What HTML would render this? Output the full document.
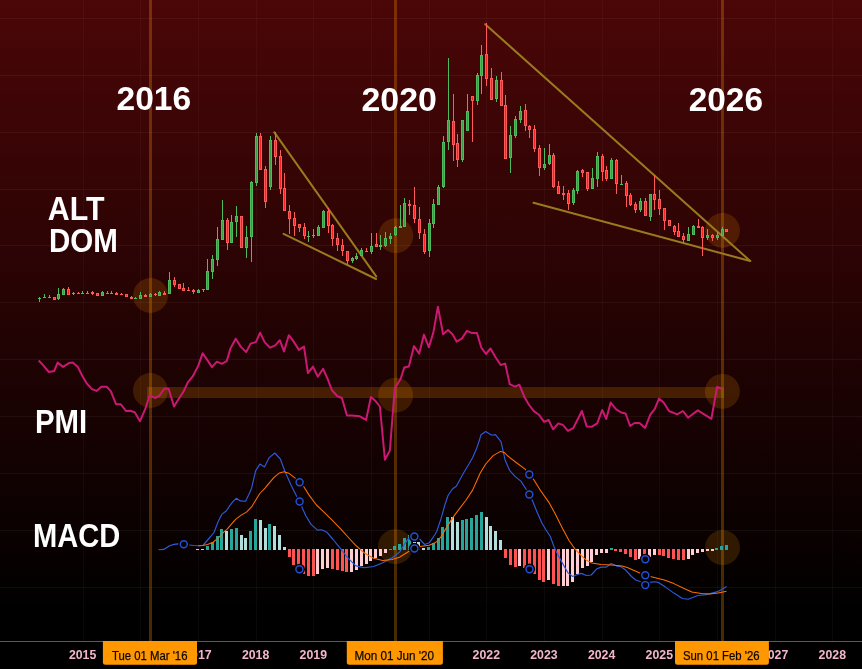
<!DOCTYPE html><html><head><meta charset="utf-8"><style>html,body{margin:0;padding:0;background:#000;}body{width:862px;height:669px;overflow:hidden;position:relative;font-family:"Liberation Sans",sans-serif;}</style></head><body><svg width="862" height="669" viewBox="0 0 862 669" style="position:absolute;left:0;top:0;will-change:transform">
<defs><linearGradient id="bg" gradientUnits="userSpaceOnUse" x1="0" y1="0" x2="0" y2="641"><stop offset="0" stop-color="#4b0607"/><stop offset="0.96" stop-color="#000000"/><stop offset="1" stop-color="#000000"/></linearGradient></defs>
<rect x="0" y="0" width="862" height="641" fill="url(#bg)"/>
<rect x="0" y="641" width="862" height="28" fill="#000"/>
<g fill="rgba(255,255,255,0.05)" shape-rendering="crispEdges"><rect x="0" y="18" width="862" height="1"/><rect x="0" y="75" width="862" height="1"/><rect x="0" y="132" width="862" height="1"/><rect x="0" y="189" width="862" height="1"/><rect x="0" y="245" width="862" height="1"/><rect x="0" y="302" width="862" height="1"/><rect x="0" y="359" width="862" height="1"/><rect x="0" y="416" width="862" height="1"/><rect x="0" y="473" width="862" height="1"/><rect x="0" y="530" width="862" height="1"/><rect x="0" y="587" width="862" height="1"/></g>
<g fill="rgba(255,255,255,0.035)" shape-rendering="crispEdges"><rect x="83" y="0" width="1" height="641"/><rect x="140" y="0" width="1" height="641"/><rect x="198" y="0" width="1" height="641"/><rect x="256" y="0" width="1" height="641"/><rect x="313" y="0" width="1" height="641"/><rect x="371" y="0" width="1" height="641"/><rect x="429" y="0" width="1" height="641"/><rect x="486" y="0" width="1" height="641"/><rect x="544" y="0" width="1" height="641"/><rect x="602" y="0" width="1" height="641"/><rect x="659" y="0" width="1" height="641"/><rect x="717" y="0" width="1" height="641"/><rect x="775" y="0" width="1" height="641"/><rect x="832" y="0" width="1" height="641"/></g>
<rect x="147" y="387" width="577" height="11" fill="rgba(255,150,0,0.195)"/>
<circle cx="150.5" cy="295.5" r="17.45" fill="rgba(255,150,0,0.165)"/>
<circle cx="395.8" cy="235.6" r="17.45" fill="rgba(255,150,0,0.165)"/>
<circle cx="722.5" cy="230.5" r="17.45" fill="rgba(255,150,0,0.165)"/>
<circle cx="150.4" cy="390.5" r="17.45" fill="rgba(255,150,0,0.165)"/>
<circle cx="395.6" cy="395.2" r="17.45" fill="rgba(255,150,0,0.165)"/>
<circle cx="722.4" cy="391.4" r="17.45" fill="rgba(255,150,0,0.165)"/>
<circle cx="395.4" cy="546.6" r="17.45" fill="rgba(255,150,0,0.165)"/>
<circle cx="722.5" cy="547.6" r="17.45" fill="rgba(255,150,0,0.165)"/>
<rect x="149" y="0" width="3" height="641" fill="rgba(255,150,0,0.28)"/>
<rect x="394" y="0" width="3" height="641" fill="rgba(255,150,0,0.28)"/>
<rect x="721" y="0" width="3" height="641" fill="rgba(255,150,0,0.28)"/>
<g fill="#fff" font-family="Liberation Sans, sans-serif" font-weight="bold">
<text x="116.50" y="110.00" font-size="33.5" textLength="74.68" lengthAdjust="spacingAndGlyphs">2016</text>
<text x="361.53" y="110.80" font-size="33.5" textLength="75.39" lengthAdjust="spacingAndGlyphs">2020</text>
<text x="688.71" y="110.80" font-size="33.5" textLength="74.28" lengthAdjust="spacingAndGlyphs">2026</text>
<text x="47.86" y="219.80" font-size="33.5" textLength="56.73" lengthAdjust="spacingAndGlyphs">ALT</text>
<text x="48.95" y="251.60" font-size="33.5" textLength="68.83" lengthAdjust="spacingAndGlyphs">DOM</text>
<text x="34.90" y="432.90" font-size="33.5" textLength="52.16" lengthAdjust="spacingAndGlyphs">PMI</text>
<text x="33.04" y="546.60" font-size="33.5" textLength="87.31" lengthAdjust="spacingAndGlyphs">MACD</text>
</g>
<line x1="274.3" y1="132.4" x2="376.2" y2="276.4" stroke="#9a7a1e" stroke-width="2" stroke-linecap="round"/>
<line x1="283.6" y1="233.8" x2="376.0" y2="279.0" stroke="#9a7a1e" stroke-width="2" stroke-linecap="round"/>
<line x1="485.2" y1="24.2" x2="750.2" y2="261.0" stroke="#9a7a1e" stroke-width="2" stroke-linecap="round"/>
<line x1="533.5" y1="202.8" x2="750.2" y2="261.0" stroke="#9a7a1e" stroke-width="2" stroke-linecap="round"/>
<g shape-rendering="crispEdges"><rect x="39" y="297" width="1" height="1" fill="#50bb5c"/><rect x="39" y="299" width="1" height="3" fill="#50bb5c"/><rect x="38" y="298" width="3" height="1" fill="#50bb5c"/><rect x="44" y="294" width="1" height="3" fill="#50bb5c"/><rect x="43" y="297" width="3" height="1" fill="#50bb5c"/><rect x="49" y="295" width="1" height="2" fill="#ff5a5a"/><rect x="48" y="297" width="3" height="1" fill="#ff5a5a"/><rect x="53" y="297" width="3" height="3" fill="#ff5a5a"/><rect x="54" y="298" width="1" height="1" fill="#ff1f1f"/><rect x="58" y="288" width="1" height="6" fill="#50bb5c"/><rect x="58" y="299" width="1" height="1" fill="#50bb5c"/><rect x="57" y="294" width="3" height="5" fill="#50bb5c"/><rect x="58" y="295" width="1" height="3" fill="#389e44"/><rect x="63" y="288" width="1" height="1" fill="#50bb5c"/><rect x="62" y="289" width="3" height="6" fill="#50bb5c"/><rect x="63" y="290" width="1" height="4" fill="#389e44"/><rect x="68" y="287" width="1" height="2" fill="#ff5a5a"/><rect x="67" y="289" width="3" height="6" fill="#ff5a5a"/><rect x="68" y="290" width="1" height="4" fill="#ff1f1f"/><rect x="73" y="292" width="1" height="1" fill="#50bb5c"/><rect x="73" y="294" width="1" height="1" fill="#50bb5c"/><rect x="72" y="293" width="3" height="1" fill="#50bb5c"/><rect x="78" y="292" width="1" height="1" fill="#ff5a5a"/><rect x="77" y="293" width="3" height="1" fill="#ff5a5a"/><rect x="82" y="291" width="1" height="2" fill="#50bb5c"/><rect x="81" y="293" width="3" height="1" fill="#50bb5c"/><rect x="87" y="291" width="1" height="2" fill="#50bb5c"/><rect x="86" y="293" width="3" height="1" fill="#50bb5c"/><rect x="92" y="291" width="1" height="1" fill="#ff5a5a"/><rect x="92" y="294" width="1" height="1" fill="#ff5a5a"/><rect x="91" y="292" width="3" height="2" fill="#ff5a5a"/><rect x="96" y="293" width="3" height="3" fill="#ff5a5a"/><rect x="97" y="294" width="1" height="1" fill="#ff1f1f"/><rect x="102" y="291" width="1" height="1" fill="#50bb5c"/><rect x="101" y="292" width="3" height="4" fill="#50bb5c"/><rect x="102" y="293" width="1" height="2" fill="#389e44"/><rect x="107" y="291" width="1" height="2" fill="#ff5a5a"/><rect x="106" y="293" width="3" height="1" fill="#ff5a5a"/><rect x="111" y="291" width="1" height="2" fill="#50bb5c"/><rect x="110" y="293" width="3" height="1" fill="#50bb5c"/><rect x="116" y="292" width="1" height="1" fill="#ff5a5a"/><rect x="115" y="293" width="3" height="2" fill="#ff5a5a"/><rect x="121" y="293" width="1" height="1" fill="#ff5a5a"/><rect x="120" y="294" width="3" height="1" fill="#ff5a5a"/><rect x="125" y="294" width="3" height="3" fill="#ff5a5a"/><rect x="126" y="295" width="1" height="1" fill="#ff1f1f"/><rect x="131" y="296" width="1" height="1" fill="#ff5a5a"/><rect x="130" y="297" width="3" height="2" fill="#ff5a5a"/><rect x="135" y="297" width="1" height="1" fill="#50bb5c"/><rect x="134" y="298" width="3" height="1" fill="#50bb5c"/><rect x="140" y="292" width="1" height="3" fill="#50bb5c"/><rect x="139" y="295" width="3" height="4" fill="#50bb5c"/><rect x="140" y="296" width="1" height="2" fill="#389e44"/><rect x="145" y="294" width="1" height="1" fill="#ff5a5a"/><rect x="144" y="295" width="3" height="2" fill="#ff5a5a"/><rect x="150" y="293" width="1" height="1" fill="#50bb5c"/><rect x="149" y="294" width="3" height="3" fill="#50bb5c"/><rect x="150" y="295" width="1" height="1" fill="#389e44"/><rect x="155" y="293" width="1" height="1" fill="#ff5a5a"/><rect x="155" y="295" width="1" height="1" fill="#ff5a5a"/><rect x="154" y="294" width="3" height="1" fill="#ff5a5a"/><rect x="159" y="291" width="1" height="1" fill="#50bb5c"/><rect x="158" y="292" width="3" height="4" fill="#50bb5c"/><rect x="159" y="293" width="1" height="2" fill="#389e44"/><rect x="164" y="291" width="1" height="2" fill="#ff5a5a"/><rect x="163" y="293" width="3" height="2" fill="#ff5a5a"/><rect x="169" y="272" width="1" height="8" fill="#50bb5c"/><rect x="168" y="280" width="3" height="14" fill="#50bb5c"/><rect x="169" y="281" width="1" height="12" fill="#389e44"/><rect x="174" y="277" width="1" height="3" fill="#ff5a5a"/><rect x="174" y="285" width="1" height="2" fill="#ff5a5a"/><rect x="173" y="280" width="3" height="5" fill="#ff5a5a"/><rect x="174" y="281" width="1" height="3" fill="#ff1f1f"/><rect x="178" y="284" width="3" height="5" fill="#ff5a5a"/><rect x="179" y="285" width="1" height="3" fill="#ff1f1f"/><rect x="183" y="283" width="1" height="5" fill="#ff5a5a"/><rect x="182" y="288" width="3" height="3" fill="#ff5a5a"/><rect x="183" y="289" width="1" height="1" fill="#ff1f1f"/><rect x="188" y="287" width="1" height="3" fill="#ff5a5a"/><rect x="187" y="290" width="3" height="1" fill="#ff5a5a"/><rect x="193" y="289" width="1" height="1" fill="#ff5a5a"/><rect x="193" y="292" width="1" height="2" fill="#ff5a5a"/><rect x="192" y="290" width="3" height="2" fill="#ff5a5a"/><rect x="198" y="289" width="1" height="1" fill="#50bb5c"/><rect x="197" y="290" width="3" height="3" fill="#50bb5c"/><rect x="198" y="291" width="1" height="1" fill="#389e44"/><rect x="203" y="290" width="1" height="2" fill="#50bb5c"/><rect x="202" y="289" width="3" height="1" fill="#50bb5c"/><rect x="207" y="259" width="1" height="12" fill="#50bb5c"/><rect x="206" y="271" width="3" height="19" fill="#50bb5c"/><rect x="207" y="272" width="1" height="17" fill="#389e44"/><rect x="212" y="255" width="1" height="4" fill="#50bb5c"/><rect x="212" y="272" width="1" height="7" fill="#50bb5c"/><rect x="211" y="259" width="3" height="13" fill="#50bb5c"/><rect x="212" y="260" width="1" height="11" fill="#389e44"/><rect x="217" y="227" width="1" height="12" fill="#50bb5c"/><rect x="217" y="260" width="1" height="6" fill="#50bb5c"/><rect x="216" y="239" width="3" height="21" fill="#50bb5c"/><rect x="217" y="240" width="1" height="19" fill="#389e44"/><rect x="222" y="200" width="1" height="20" fill="#50bb5c"/><rect x="221" y="220" width="3" height="20" fill="#50bb5c"/><rect x="222" y="221" width="1" height="18" fill="#389e44"/><rect x="227" y="218" width="1" height="2" fill="#ff5a5a"/><rect x="227" y="243" width="1" height="7" fill="#ff5a5a"/><rect x="226" y="220" width="3" height="23" fill="#ff5a5a"/><rect x="227" y="221" width="1" height="21" fill="#ff1f1f"/><rect x="231" y="215" width="1" height="7" fill="#50bb5c"/><rect x="230" y="222" width="3" height="21" fill="#50bb5c"/><rect x="231" y="223" width="1" height="19" fill="#389e44"/><rect x="236" y="206" width="1" height="10" fill="#50bb5c"/><rect x="236" y="222" width="1" height="15" fill="#50bb5c"/><rect x="235" y="216" width="3" height="6" fill="#50bb5c"/><rect x="236" y="217" width="1" height="4" fill="#389e44"/><rect x="240" y="216" width="3" height="32" fill="#ff5a5a"/><rect x="241" y="217" width="1" height="30" fill="#ff1f1f"/><rect x="246" y="226" width="1" height="11" fill="#50bb5c"/><rect x="246" y="248" width="1" height="10" fill="#50bb5c"/><rect x="245" y="237" width="3" height="11" fill="#50bb5c"/><rect x="246" y="238" width="1" height="9" fill="#389e44"/><rect x="251" y="181" width="1" height="1" fill="#50bb5c"/><rect x="251" y="237" width="1" height="25" fill="#50bb5c"/><rect x="250" y="182" width="3" height="55" fill="#50bb5c"/><rect x="251" y="183" width="1" height="53" fill="#389e44"/><rect x="256" y="133" width="1" height="3" fill="#50bb5c"/><rect x="256" y="183" width="1" height="3" fill="#50bb5c"/><rect x="255" y="136" width="3" height="47" fill="#50bb5c"/><rect x="256" y="137" width="1" height="45" fill="#389e44"/><rect x="260" y="133" width="1" height="3" fill="#ff5a5a"/><rect x="259" y="136" width="3" height="34" fill="#ff5a5a"/><rect x="260" y="137" width="1" height="32" fill="#ff1f1f"/><rect x="265" y="166" width="1" height="3" fill="#ff5a5a"/><rect x="265" y="202" width="1" height="6" fill="#ff5a5a"/><rect x="264" y="169" width="3" height="33" fill="#ff5a5a"/><rect x="265" y="170" width="1" height="31" fill="#ff1f1f"/><rect x="270" y="136" width="1" height="4" fill="#50bb5c"/><rect x="270" y="187" width="1" height="3" fill="#50bb5c"/><rect x="269" y="140" width="3" height="47" fill="#50bb5c"/><rect x="270" y="141" width="1" height="45" fill="#389e44"/><rect x="275" y="132" width="1" height="8" fill="#ff5a5a"/><rect x="275" y="157" width="1" height="8" fill="#ff5a5a"/><rect x="274" y="140" width="3" height="17" fill="#ff5a5a"/><rect x="275" y="141" width="1" height="15" fill="#ff1f1f"/><rect x="280" y="150" width="1" height="6" fill="#ff5a5a"/><rect x="280" y="189" width="1" height="5" fill="#ff5a5a"/><rect x="279" y="156" width="3" height="33" fill="#ff5a5a"/><rect x="280" y="157" width="1" height="31" fill="#ff1f1f"/><rect x="284" y="173" width="1" height="15" fill="#ff5a5a"/><rect x="283" y="188" width="3" height="23" fill="#ff5a5a"/><rect x="284" y="189" width="1" height="21" fill="#ff1f1f"/><rect x="289" y="205" width="1" height="6" fill="#ff5a5a"/><rect x="289" y="219" width="1" height="15" fill="#ff5a5a"/><rect x="288" y="211" width="3" height="8" fill="#ff5a5a"/><rect x="289" y="212" width="1" height="6" fill="#ff1f1f"/><rect x="294" y="212" width="1" height="6" fill="#ff5a5a"/><rect x="294" y="226" width="1" height="10" fill="#ff5a5a"/><rect x="293" y="218" width="3" height="8" fill="#ff5a5a"/><rect x="294" y="219" width="1" height="6" fill="#ff1f1f"/><rect x="299" y="228" width="1" height="4" fill="#ff5a5a"/><rect x="298" y="224" width="3" height="4" fill="#ff5a5a"/><rect x="299" y="225" width="1" height="2" fill="#ff1f1f"/><rect x="304" y="223" width="1" height="4" fill="#ff5a5a"/><rect x="304" y="236" width="1" height="3" fill="#ff5a5a"/><rect x="303" y="227" width="3" height="9" fill="#ff5a5a"/><rect x="304" y="228" width="1" height="7" fill="#ff1f1f"/><rect x="308" y="231" width="1" height="5" fill="#50bb5c"/><rect x="308" y="237" width="1" height="5" fill="#50bb5c"/><rect x="307" y="236" width="3" height="1" fill="#50bb5c"/><rect x="313" y="229" width="1" height="6" fill="#50bb5c"/><rect x="313" y="236" width="1" height="2" fill="#50bb5c"/><rect x="312" y="235" width="3" height="1" fill="#50bb5c"/><rect x="318" y="225" width="1" height="2" fill="#50bb5c"/><rect x="317" y="227" width="3" height="9" fill="#50bb5c"/><rect x="318" y="228" width="1" height="7" fill="#389e44"/><rect x="323" y="210" width="1" height="1" fill="#50bb5c"/><rect x="322" y="211" width="3" height="17" fill="#50bb5c"/><rect x="323" y="212" width="1" height="15" fill="#389e44"/><rect x="328" y="208" width="1" height="3" fill="#ff5a5a"/><rect x="328" y="226" width="1" height="7" fill="#ff5a5a"/><rect x="327" y="211" width="3" height="15" fill="#ff5a5a"/><rect x="328" y="212" width="1" height="13" fill="#ff1f1f"/><rect x="332" y="224" width="1" height="1" fill="#ff5a5a"/><rect x="332" y="239" width="1" height="7" fill="#ff5a5a"/><rect x="331" y="225" width="3" height="14" fill="#ff5a5a"/><rect x="332" y="226" width="1" height="12" fill="#ff1f1f"/><rect x="337" y="233" width="1" height="5" fill="#ff5a5a"/><rect x="337" y="245" width="1" height="6" fill="#ff5a5a"/><rect x="336" y="238" width="3" height="7" fill="#ff5a5a"/><rect x="337" y="239" width="1" height="5" fill="#ff1f1f"/><rect x="342" y="239" width="1" height="6" fill="#ff5a5a"/><rect x="342" y="251" width="1" height="5" fill="#ff5a5a"/><rect x="341" y="245" width="3" height="6" fill="#ff5a5a"/><rect x="342" y="246" width="1" height="4" fill="#ff1f1f"/><rect x="347" y="261" width="1" height="4" fill="#ff5a5a"/><rect x="346" y="251" width="3" height="10" fill="#ff5a5a"/><rect x="347" y="252" width="1" height="8" fill="#ff1f1f"/><rect x="352" y="257" width="1" height="1" fill="#50bb5c"/><rect x="352" y="261" width="1" height="2" fill="#50bb5c"/><rect x="351" y="258" width="3" height="3" fill="#50bb5c"/><rect x="352" y="259" width="1" height="1" fill="#389e44"/><rect x="356" y="253" width="1" height="3" fill="#50bb5c"/><rect x="356" y="259" width="1" height="1" fill="#50bb5c"/><rect x="355" y="256" width="3" height="3" fill="#50bb5c"/><rect x="356" y="257" width="1" height="1" fill="#389e44"/><rect x="361" y="248" width="1" height="2" fill="#50bb5c"/><rect x="360" y="250" width="3" height="6" fill="#50bb5c"/><rect x="361" y="251" width="1" height="4" fill="#389e44"/><rect x="366" y="248" width="1" height="3" fill="#ff5a5a"/><rect x="365" y="251" width="3" height="1" fill="#ff5a5a"/><rect x="371" y="233" width="1" height="13" fill="#50bb5c"/><rect x="371" y="252" width="1" height="2" fill="#50bb5c"/><rect x="370" y="246" width="3" height="6" fill="#50bb5c"/><rect x="371" y="247" width="1" height="4" fill="#389e44"/><rect x="376" y="233" width="1" height="11" fill="#ff5a5a"/><rect x="375" y="244" width="3" height="3" fill="#ff5a5a"/><rect x="376" y="245" width="1" height="1" fill="#ff1f1f"/><rect x="380" y="235" width="1" height="10" fill="#50bb5c"/><rect x="380" y="247" width="1" height="3" fill="#50bb5c"/><rect x="379" y="245" width="3" height="2" fill="#50bb5c"/><rect x="385" y="232" width="1" height="6" fill="#50bb5c"/><rect x="385" y="246" width="1" height="1" fill="#50bb5c"/><rect x="384" y="238" width="3" height="8" fill="#50bb5c"/><rect x="385" y="239" width="1" height="6" fill="#389e44"/><rect x="390" y="233" width="1" height="3" fill="#50bb5c"/><rect x="390" y="239" width="1" height="5" fill="#50bb5c"/><rect x="389" y="236" width="3" height="3" fill="#50bb5c"/><rect x="390" y="237" width="1" height="1" fill="#389e44"/><rect x="395" y="226" width="1" height="1" fill="#50bb5c"/><rect x="395" y="235" width="1" height="1" fill="#50bb5c"/><rect x="394" y="227" width="3" height="8" fill="#50bb5c"/><rect x="395" y="228" width="1" height="6" fill="#389e44"/><rect x="400" y="205" width="1" height="21" fill="#50bb5c"/><rect x="399" y="226" width="3" height="2" fill="#50bb5c"/><rect x="404" y="198" width="1" height="5" fill="#50bb5c"/><rect x="403" y="203" width="3" height="24" fill="#50bb5c"/><rect x="404" y="204" width="1" height="22" fill="#389e44"/><rect x="409" y="200" width="1" height="4" fill="#ff5a5a"/><rect x="409" y="206" width="1" height="9" fill="#ff5a5a"/><rect x="408" y="204" width="3" height="2" fill="#ff5a5a"/><rect x="414" y="187" width="1" height="18" fill="#ff5a5a"/><rect x="414" y="219" width="1" height="4" fill="#ff5a5a"/><rect x="413" y="205" width="3" height="14" fill="#ff5a5a"/><rect x="414" y="206" width="1" height="12" fill="#ff1f1f"/><rect x="419" y="207" width="1" height="12" fill="#ff5a5a"/><rect x="419" y="233" width="1" height="6" fill="#ff5a5a"/><rect x="418" y="219" width="3" height="14" fill="#ff5a5a"/><rect x="419" y="220" width="1" height="12" fill="#ff1f1f"/><rect x="424" y="229" width="1" height="5" fill="#ff5a5a"/><rect x="424" y="252" width="1" height="2" fill="#ff5a5a"/><rect x="423" y="234" width="3" height="18" fill="#ff5a5a"/><rect x="424" y="235" width="1" height="16" fill="#ff1f1f"/><rect x="429" y="219" width="1" height="4" fill="#50bb5c"/><rect x="429" y="251" width="1" height="6" fill="#50bb5c"/><rect x="428" y="223" width="3" height="28" fill="#50bb5c"/><rect x="429" y="224" width="1" height="26" fill="#389e44"/><rect x="433" y="199" width="1" height="5" fill="#50bb5c"/><rect x="433" y="224" width="1" height="4" fill="#50bb5c"/><rect x="432" y="204" width="3" height="20" fill="#50bb5c"/><rect x="433" y="205" width="1" height="18" fill="#389e44"/><rect x="438" y="185" width="1" height="2" fill="#50bb5c"/><rect x="437" y="187" width="3" height="18" fill="#50bb5c"/><rect x="438" y="188" width="1" height="16" fill="#389e44"/><rect x="443" y="136" width="1" height="6" fill="#50bb5c"/><rect x="443" y="187" width="1" height="1" fill="#50bb5c"/><rect x="442" y="142" width="3" height="45" fill="#50bb5c"/><rect x="443" y="143" width="1" height="43" fill="#389e44"/><rect x="448" y="58" width="1" height="62" fill="#50bb5c"/><rect x="448" y="142" width="1" height="8" fill="#50bb5c"/><rect x="447" y="120" width="3" height="22" fill="#50bb5c"/><rect x="448" y="121" width="1" height="20" fill="#389e44"/><rect x="453" y="94" width="1" height="27" fill="#ff5a5a"/><rect x="453" y="145" width="1" height="16" fill="#ff5a5a"/><rect x="452" y="121" width="3" height="24" fill="#ff5a5a"/><rect x="453" y="122" width="1" height="22" fill="#ff1f1f"/><rect x="457" y="134" width="1" height="9" fill="#ff5a5a"/><rect x="457" y="160" width="1" height="7" fill="#ff5a5a"/><rect x="456" y="143" width="3" height="17" fill="#ff5a5a"/><rect x="457" y="144" width="1" height="15" fill="#ff1f1f"/><rect x="462" y="160" width="1" height="2" fill="#50bb5c"/><rect x="461" y="120" width="3" height="40" fill="#50bb5c"/><rect x="462" y="121" width="1" height="38" fill="#389e44"/><rect x="467" y="94" width="1" height="17" fill="#50bb5c"/><rect x="466" y="111" width="3" height="20" fill="#50bb5c"/><rect x="467" y="112" width="1" height="18" fill="#389e44"/><rect x="472" y="101" width="1" height="41" fill="#ff5a5a"/><rect x="471" y="96" width="3" height="5" fill="#ff5a5a"/><rect x="472" y="97" width="1" height="3" fill="#ff1f1f"/><rect x="477" y="73" width="1" height="2" fill="#50bb5c"/><rect x="477" y="101" width="1" height="4" fill="#50bb5c"/><rect x="476" y="75" width="3" height="26" fill="#50bb5c"/><rect x="477" y="76" width="1" height="24" fill="#389e44"/><rect x="481" y="45" width="1" height="10" fill="#50bb5c"/><rect x="481" y="76" width="1" height="18" fill="#50bb5c"/><rect x="480" y="55" width="3" height="21" fill="#50bb5c"/><rect x="481" y="56" width="1" height="19" fill="#389e44"/><rect x="486" y="23" width="1" height="31" fill="#ff5a5a"/><rect x="486" y="79" width="1" height="7" fill="#ff5a5a"/><rect x="485" y="54" width="3" height="25" fill="#ff5a5a"/><rect x="486" y="55" width="1" height="23" fill="#ff1f1f"/><rect x="491" y="68" width="1" height="10" fill="#ff5a5a"/><rect x="490" y="78" width="3" height="22" fill="#ff5a5a"/><rect x="491" y="79" width="1" height="20" fill="#ff1f1f"/><rect x="496" y="76" width="1" height="4" fill="#50bb5c"/><rect x="496" y="99" width="1" height="3" fill="#50bb5c"/><rect x="495" y="80" width="3" height="19" fill="#50bb5c"/><rect x="496" y="81" width="1" height="17" fill="#389e44"/><rect x="501" y="72" width="1" height="8" fill="#ff5a5a"/><rect x="500" y="80" width="3" height="26" fill="#ff5a5a"/><rect x="501" y="81" width="1" height="24" fill="#ff1f1f"/><rect x="505" y="95" width="1" height="10" fill="#ff5a5a"/><rect x="504" y="105" width="3" height="54" fill="#ff5a5a"/><rect x="505" y="106" width="1" height="52" fill="#ff1f1f"/><rect x="510" y="126" width="1" height="9" fill="#50bb5c"/><rect x="510" y="158" width="1" height="15" fill="#50bb5c"/><rect x="509" y="135" width="3" height="23" fill="#50bb5c"/><rect x="510" y="136" width="1" height="21" fill="#389e44"/><rect x="515" y="116" width="1" height="3" fill="#50bb5c"/><rect x="515" y="136" width="1" height="2" fill="#50bb5c"/><rect x="514" y="119" width="3" height="17" fill="#50bb5c"/><rect x="515" y="120" width="1" height="15" fill="#389e44"/><rect x="520" y="106" width="1" height="5" fill="#50bb5c"/><rect x="520" y="120" width="1" height="3" fill="#50bb5c"/><rect x="519" y="111" width="3" height="9" fill="#50bb5c"/><rect x="520" y="112" width="1" height="7" fill="#389e44"/><rect x="525" y="104" width="1" height="6" fill="#ff5a5a"/><rect x="525" y="126" width="1" height="5" fill="#ff5a5a"/><rect x="524" y="110" width="3" height="16" fill="#ff5a5a"/><rect x="525" y="111" width="1" height="14" fill="#ff1f1f"/><rect x="529" y="125" width="1" height="1" fill="#ff5a5a"/><rect x="529" y="130" width="1" height="8" fill="#ff5a5a"/><rect x="528" y="126" width="3" height="4" fill="#ff5a5a"/><rect x="529" y="127" width="1" height="2" fill="#ff1f1f"/><rect x="534" y="125" width="1" height="4" fill="#ff5a5a"/><rect x="534" y="149" width="1" height="3" fill="#ff5a5a"/><rect x="533" y="129" width="3" height="20" fill="#ff5a5a"/><rect x="534" y="130" width="1" height="18" fill="#ff1f1f"/><rect x="539" y="145" width="1" height="3" fill="#ff5a5a"/><rect x="539" y="168" width="1" height="8" fill="#ff5a5a"/><rect x="538" y="148" width="3" height="20" fill="#ff5a5a"/><rect x="539" y="149" width="1" height="18" fill="#ff1f1f"/><rect x="544" y="148" width="1" height="16" fill="#50bb5c"/><rect x="544" y="168" width="1" height="2" fill="#50bb5c"/><rect x="543" y="164" width="3" height="4" fill="#50bb5c"/><rect x="544" y="165" width="1" height="2" fill="#389e44"/><rect x="549" y="144" width="1" height="11" fill="#50bb5c"/><rect x="549" y="164" width="1" height="1" fill="#50bb5c"/><rect x="548" y="155" width="3" height="9" fill="#50bb5c"/><rect x="549" y="156" width="1" height="7" fill="#389e44"/><rect x="553" y="153" width="1" height="2" fill="#ff5a5a"/><rect x="553" y="187" width="1" height="1" fill="#ff5a5a"/><rect x="552" y="155" width="3" height="32" fill="#ff5a5a"/><rect x="553" y="156" width="1" height="30" fill="#ff1f1f"/><rect x="558" y="181" width="1" height="5" fill="#ff5a5a"/><rect x="557" y="186" width="3" height="8" fill="#ff5a5a"/><rect x="558" y="187" width="1" height="6" fill="#ff1f1f"/><rect x="563" y="186" width="1" height="7" fill="#ff5a5a"/><rect x="563" y="195" width="1" height="5" fill="#ff5a5a"/><rect x="562" y="193" width="3" height="2" fill="#ff5a5a"/><rect x="568" y="190" width="1" height="3" fill="#ff5a5a"/><rect x="568" y="204" width="1" height="6" fill="#ff5a5a"/><rect x="567" y="193" width="3" height="11" fill="#ff5a5a"/><rect x="568" y="194" width="1" height="9" fill="#ff1f1f"/><rect x="573" y="188" width="1" height="2" fill="#50bb5c"/><rect x="573" y="203" width="1" height="2" fill="#50bb5c"/><rect x="572" y="190" width="3" height="13" fill="#50bb5c"/><rect x="573" y="191" width="1" height="11" fill="#389e44"/><rect x="577" y="170" width="1" height="1" fill="#50bb5c"/><rect x="577" y="191" width="1" height="3" fill="#50bb5c"/><rect x="576" y="171" width="3" height="20" fill="#50bb5c"/><rect x="577" y="172" width="1" height="18" fill="#389e44"/><rect x="582" y="169" width="1" height="1" fill="#ff5a5a"/><rect x="582" y="173" width="1" height="4" fill="#ff5a5a"/><rect x="581" y="170" width="3" height="3" fill="#ff5a5a"/><rect x="582" y="171" width="1" height="1" fill="#ff1f1f"/><rect x="587" y="189" width="1" height="2" fill="#ff5a5a"/><rect x="586" y="172" width="3" height="17" fill="#ff5a5a"/><rect x="587" y="173" width="1" height="15" fill="#ff1f1f"/><rect x="592" y="168" width="1" height="10" fill="#50bb5c"/><rect x="591" y="178" width="3" height="11" fill="#50bb5c"/><rect x="592" y="179" width="1" height="9" fill="#389e44"/><rect x="597" y="152" width="1" height="4" fill="#50bb5c"/><rect x="597" y="179" width="1" height="8" fill="#50bb5c"/><rect x="596" y="156" width="3" height="23" fill="#50bb5c"/><rect x="597" y="157" width="1" height="21" fill="#389e44"/><rect x="602" y="154" width="1" height="2" fill="#ff5a5a"/><rect x="602" y="172" width="1" height="9" fill="#ff5a5a"/><rect x="601" y="156" width="3" height="16" fill="#ff5a5a"/><rect x="602" y="157" width="1" height="14" fill="#ff1f1f"/><rect x="606" y="166" width="1" height="4" fill="#ff5a5a"/><rect x="606" y="179" width="1" height="2" fill="#ff5a5a"/><rect x="605" y="170" width="3" height="9" fill="#ff5a5a"/><rect x="606" y="171" width="1" height="7" fill="#ff1f1f"/><rect x="611" y="158" width="1" height="2" fill="#50bb5c"/><rect x="610" y="160" width="3" height="19" fill="#50bb5c"/><rect x="611" y="161" width="1" height="17" fill="#389e44"/><rect x="616" y="159" width="1" height="1" fill="#ff5a5a"/><rect x="616" y="184" width="1" height="10" fill="#ff5a5a"/><rect x="615" y="160" width="3" height="24" fill="#ff5a5a"/><rect x="616" y="161" width="1" height="22" fill="#ff1f1f"/><rect x="621" y="175" width="1" height="9" fill="#50bb5c"/><rect x="620" y="184" width="3" height="1" fill="#50bb5c"/><rect x="626" y="181" width="1" height="2" fill="#ff5a5a"/><rect x="626" y="196" width="1" height="11" fill="#ff5a5a"/><rect x="625" y="183" width="3" height="13" fill="#ff5a5a"/><rect x="626" y="184" width="1" height="11" fill="#ff1f1f"/><rect x="630" y="193" width="1" height="2" fill="#ff5a5a"/><rect x="630" y="205" width="1" height="1" fill="#ff5a5a"/><rect x="629" y="195" width="3" height="10" fill="#ff5a5a"/><rect x="630" y="196" width="1" height="8" fill="#ff1f1f"/><rect x="635" y="202" width="1" height="2" fill="#ff5a5a"/><rect x="635" y="210" width="1" height="3" fill="#ff5a5a"/><rect x="634" y="204" width="3" height="6" fill="#ff5a5a"/><rect x="635" y="205" width="1" height="4" fill="#ff1f1f"/><rect x="640" y="198" width="1" height="3" fill="#50bb5c"/><rect x="640" y="210" width="1" height="2" fill="#50bb5c"/><rect x="639" y="201" width="3" height="9" fill="#50bb5c"/><rect x="640" y="202" width="1" height="7" fill="#389e44"/><rect x="645" y="198" width="1" height="3" fill="#ff5a5a"/><rect x="644" y="201" width="3" height="15" fill="#ff5a5a"/><rect x="645" y="202" width="1" height="13" fill="#ff1f1f"/><rect x="650" y="217" width="1" height="4" fill="#50bb5c"/><rect x="649" y="194" width="3" height="23" fill="#50bb5c"/><rect x="650" y="195" width="1" height="21" fill="#389e44"/><rect x="654" y="175" width="1" height="19" fill="#ff5a5a"/><rect x="654" y="200" width="1" height="10" fill="#ff5a5a"/><rect x="653" y="194" width="3" height="6" fill="#ff5a5a"/><rect x="654" y="195" width="1" height="4" fill="#ff1f1f"/><rect x="659" y="190" width="1" height="9" fill="#ff5a5a"/><rect x="659" y="209" width="1" height="6" fill="#ff5a5a"/><rect x="658" y="199" width="3" height="10" fill="#ff5a5a"/><rect x="659" y="200" width="1" height="8" fill="#ff1f1f"/><rect x="664" y="221" width="1" height="9" fill="#ff5a5a"/><rect x="663" y="208" width="3" height="13" fill="#ff5a5a"/><rect x="664" y="209" width="1" height="11" fill="#ff1f1f"/><rect x="668" y="220" width="3" height="6" fill="#ff5a5a"/><rect x="669" y="221" width="1" height="4" fill="#ff1f1f"/><rect x="674" y="225" width="1" height="1" fill="#ff5a5a"/><rect x="674" y="232" width="1" height="3" fill="#ff5a5a"/><rect x="673" y="226" width="3" height="6" fill="#ff5a5a"/><rect x="674" y="227" width="1" height="4" fill="#ff1f1f"/><rect x="678" y="223" width="1" height="8" fill="#ff5a5a"/><rect x="677" y="231" width="3" height="6" fill="#ff5a5a"/><rect x="678" y="232" width="1" height="4" fill="#ff1f1f"/><rect x="683" y="233" width="1" height="3" fill="#ff5a5a"/><rect x="683" y="240" width="1" height="3" fill="#ff5a5a"/><rect x="682" y="236" width="3" height="4" fill="#ff5a5a"/><rect x="683" y="237" width="1" height="2" fill="#ff1f1f"/><rect x="688" y="227" width="1" height="7" fill="#50bb5c"/><rect x="687" y="234" width="3" height="7" fill="#50bb5c"/><rect x="688" y="235" width="1" height="5" fill="#389e44"/><rect x="693" y="225" width="1" height="1" fill="#50bb5c"/><rect x="692" y="226" width="3" height="9" fill="#50bb5c"/><rect x="693" y="227" width="1" height="7" fill="#389e44"/><rect x="698" y="219" width="1" height="7" fill="#ff5a5a"/><rect x="697" y="226" width="3" height="2" fill="#ff5a5a"/><rect x="702" y="226" width="1" height="1" fill="#ff5a5a"/><rect x="702" y="238" width="1" height="18" fill="#ff5a5a"/><rect x="701" y="227" width="3" height="11" fill="#ff5a5a"/><rect x="702" y="228" width="1" height="9" fill="#ff1f1f"/><rect x="707" y="229" width="1" height="6" fill="#50bb5c"/><rect x="707" y="238" width="1" height="2" fill="#50bb5c"/><rect x="706" y="235" width="3" height="3" fill="#50bb5c"/><rect x="707" y="236" width="1" height="1" fill="#389e44"/><rect x="712" y="234" width="1" height="1" fill="#ff5a5a"/><rect x="712" y="238" width="1" height="3" fill="#ff5a5a"/><rect x="711" y="235" width="3" height="3" fill="#ff5a5a"/><rect x="712" y="236" width="1" height="1" fill="#ff1f1f"/><rect x="717" y="232" width="1" height="3" fill="#50bb5c"/><rect x="717" y="238" width="1" height="2" fill="#50bb5c"/><rect x="716" y="235" width="3" height="3" fill="#50bb5c"/><rect x="717" y="236" width="1" height="1" fill="#389e44"/><rect x="722" y="227" width="1" height="2" fill="#50bb5c"/><rect x="721" y="229" width="3" height="7" fill="#50bb5c"/><rect x="722" y="230" width="1" height="5" fill="#389e44"/><rect x="725" y="229" width="3" height="3" fill="#ff5a5a"/><rect x="726" y="230" width="1" height="1" fill="#ff1f1f"/></g>
<polyline points="38.7,360.5 43.5,365.6 48.8,372 54.2,371 57.6,362.6 63,366.9 69,363.1 72.8,362.6 77.8,366.9 82.5,376.3 86.5,383.1 91.9,389.1 96.6,390.9 101.3,386.8 106.7,386.8 110.8,391.1 116.1,404.3 120.8,404.3 126.2,411.1 130.2,410.7 134.7,412.2 140,421.2 145.2,409.2 149.7,395 154.9,398 159.4,395.8 164.2,388.7 168.6,388.7 174,406.5 178.8,398.8 183.3,392 187.8,382.3 193,376 198.2,365.9 202.7,353.2 207.2,359.9 212,367.1 216.9,361.7 221.8,363.8 226.7,361.1 230.5,348.4 235.7,338.7 240.9,346.9 246.2,352.1 250.6,343.6 255.9,342.1 260.1,332.7 264.8,342.4 270.1,347.7 275.3,345.4 279.8,340.2 284,351.4 288.8,335.2 293.2,340.9 298.9,349.9 304,346.6 307.9,373.1 313,366.6 317.8,376.7 323.1,368.8 327.5,378.7 332,390.3 337.4,396.2 341.9,398 346.9,415.4 351.7,415.4 359.8,416.3 366.1,419.9 370.9,397 375.6,401.1 379.9,406.5 384.9,459.7 389.9,450.4 394.7,388.5 400.7,378.7 404.2,367.6 408.9,366.6 414,346.1 419.2,353.6 424,334.6 428.9,347.3 433.4,332.4 437.9,306.7 443.1,334.2 448,330.1 452.5,334.2 456.6,341.6 461.8,338.6 467,330.9 472,333.1 477,333.1 481.2,347.3 486,354 490.5,348.5 495.4,357 500.7,365 505.2,363.6 509.7,384.1 515,386.6 519.4,384.8 524.7,397.5 529.1,405 534.1,411.4 538.9,414.7 544.1,421.9 548.6,420 553.1,429.4 558.3,423.4 562.8,424.9 568,430.9 573.2,428.2 581.9,411 586.7,426.4 591.9,426.7 597.2,423.3 602.2,410 606.2,418.9 610.7,402.5 615.9,409.1 621.2,412.5 625.6,413.5 630.1,426 634.6,423 639.5,423 645.1,427.9 650.3,414.7 654.8,408.8 659,398.6 663.8,402.8 669,411 677.2,414.4 682.9,411 688,417.7 697.8,410.4 711.4,418.8 717.1,387 721.9,388.8" fill="none" stroke="#ca1873" stroke-width="2" stroke-linejoin="round"/>
<g shape-rendering="crispEdges"><rect x="196" y="549" width="3" height="1" fill="#b2dfdb"/><rect x="201" y="549" width="3" height="1" fill="#b2dfdb"/><rect x="206" y="546" width="3" height="4" fill="#26a69a"/><rect x="211" y="542" width="3" height="8" fill="#26a69a"/><rect x="216" y="536" width="3" height="14" fill="#26a69a"/><rect x="220" y="529" width="3" height="21" fill="#26a69a"/><rect x="225" y="531" width="3" height="19" fill="#b2dfdb"/><rect x="230" y="529" width="3" height="21" fill="#26a69a"/><rect x="235" y="528" width="3" height="22" fill="#26a69a"/><rect x="240" y="535" width="3" height="15" fill="#b2dfdb"/><rect x="244" y="538" width="3" height="12" fill="#b2dfdb"/><rect x="249" y="531" width="3" height="19" fill="#26a69a"/><rect x="254" y="519" width="3" height="31" fill="#26a69a"/><rect x="259" y="520" width="3" height="30" fill="#b2dfdb"/><rect x="264" y="528" width="3" height="22" fill="#b2dfdb"/><rect x="268" y="524" width="3" height="26" fill="#26a69a"/><rect x="273" y="526" width="3" height="24" fill="#b2dfdb"/><rect x="278" y="535" width="3" height="15" fill="#b2dfdb"/><rect x="283" y="547" width="3" height="3" fill="#b2dfdb"/><rect x="288" y="549" width="3" height="8" fill="#ff5252"/><rect x="292" y="549" width="3" height="16" fill="#ff5252"/><rect x="297" y="549" width="3" height="17" fill="#ff5252"/><rect x="302" y="549" width="3" height="25" fill="#ff5252"/><rect x="307" y="549" width="3" height="27" fill="#ff5252"/><rect x="312" y="549" width="3" height="27" fill="#ff5252"/><rect x="316" y="549" width="3" height="25" fill="#ffcdd2"/><rect x="321" y="549" width="3" height="20" fill="#ffcdd2"/><rect x="326" y="549" width="3" height="19" fill="#ffcdd2"/><rect x="331" y="549" width="3" height="20" fill="#ff5252"/><rect x="336" y="549" width="3" height="21" fill="#ff5252"/><rect x="341" y="549" width="3" height="22" fill="#ff5252"/><rect x="345" y="549" width="3" height="23" fill="#ff5252"/><rect x="350" y="549" width="3" height="23" fill="#ffcdd2"/><rect x="355" y="549" width="3" height="21" fill="#ffcdd2"/><rect x="360" y="549" width="3" height="17" fill="#ffcdd2"/><rect x="365" y="549" width="3" height="15" fill="#ffcdd2"/><rect x="369" y="549" width="3" height="12" fill="#ffcdd2"/><rect x="374" y="549" width="3" height="9" fill="#ffcdd2"/><rect x="379" y="549" width="3" height="7" fill="#ffcdd2"/><rect x="384" y="549" width="3" height="4" fill="#ffcdd2"/><rect x="389" y="549" width="3" height="1" fill="#26a69a"/><rect x="393" y="546" width="3" height="4" fill="#26a69a"/><rect x="398" y="544" width="3" height="6" fill="#26a69a"/><rect x="403" y="538" width="3" height="12" fill="#26a69a"/><rect x="408" y="535" width="3" height="15" fill="#26a69a"/><rect x="413" y="542" width="3" height="8" fill="#b2dfdb"/><rect x="417" y="542" width="3" height="8" fill="#b2dfdb"/><rect x="422" y="548" width="3" height="2" fill="#b2dfdb"/><rect x="427" y="547" width="3" height="3" fill="#26a69a"/><rect x="432" y="543" width="3" height="7" fill="#26a69a"/><rect x="437" y="538" width="3" height="12" fill="#26a69a"/><rect x="441" y="527" width="3" height="23" fill="#26a69a"/><rect x="446" y="517" width="3" height="33" fill="#26a69a"/><rect x="451" y="517" width="3" height="33" fill="#b2dfdb"/><rect x="456" y="522" width="3" height="28" fill="#b2dfdb"/><rect x="461" y="520" width="3" height="30" fill="#26a69a"/><rect x="465" y="519" width="3" height="31" fill="#26a69a"/><rect x="470" y="518" width="3" height="32" fill="#26a69a"/><rect x="475" y="515" width="3" height="35" fill="#26a69a"/><rect x="480" y="512" width="3" height="38" fill="#26a69a"/><rect x="485" y="517" width="3" height="33" fill="#b2dfdb"/><rect x="489" y="526" width="3" height="24" fill="#b2dfdb"/><rect x="494" y="531" width="3" height="19" fill="#b2dfdb"/><rect x="499" y="540" width="3" height="10" fill="#b2dfdb"/><rect x="504" y="549" width="3" height="9" fill="#ff5252"/><rect x="509" y="549" width="3" height="16" fill="#ff5252"/><rect x="514" y="549" width="3" height="18" fill="#ff5252"/><rect x="518" y="549" width="3" height="17" fill="#ffcdd2"/><rect x="523" y="549" width="3" height="19" fill="#ff5252"/><rect x="528" y="549" width="3" height="21" fill="#ff5252"/><rect x="533" y="549" width="3" height="25" fill="#ff5252"/><rect x="538" y="549" width="3" height="31" fill="#ff5252"/><rect x="542" y="549" width="3" height="33" fill="#ff5252"/><rect x="547" y="549" width="3" height="31" fill="#ffcdd2"/><rect x="552" y="549" width="3" height="35" fill="#ff5252"/><rect x="557" y="549" width="3" height="37" fill="#ff5252"/><rect x="562" y="549" width="3" height="37" fill="#ffcdd2"/><rect x="566" y="549" width="3" height="37" fill="#ffcdd2"/><rect x="571" y="549" width="3" height="33" fill="#ffcdd2"/><rect x="576" y="549" width="3" height="25" fill="#ffcdd2"/><rect x="581" y="549" width="3" height="19" fill="#ffcdd2"/><rect x="586" y="549" width="3" height="17" fill="#ffcdd2"/><rect x="590" y="549" width="3" height="13" fill="#ffcdd2"/><rect x="595" y="549" width="3" height="6" fill="#ffcdd2"/><rect x="600" y="549" width="3" height="4" fill="#ffcdd2"/><rect x="605" y="549" width="3" height="4" fill="#ffcdd2"/><rect x="610" y="548" width="3" height="2" fill="#26a69a"/><rect x="614" y="549" width="3" height="2" fill="#ff5252"/><rect x="619" y="549" width="3" height="3" fill="#ff5252"/><rect x="624" y="549" width="3" height="5" fill="#ff5252"/><rect x="629" y="549" width="3" height="8" fill="#ff5252"/><rect x="634" y="549" width="3" height="11" fill="#ff5252"/><rect x="638" y="549" width="3" height="10" fill="#ffcdd2"/><rect x="643" y="549" width="3" height="7" fill="#ff5252"/><rect x="648" y="549" width="3" height="8" fill="#ffcdd2"/><rect x="653" y="549" width="3" height="6" fill="#ffcdd2"/><rect x="658" y="549" width="3" height="6" fill="#ff5252"/><rect x="662" y="549" width="3" height="7" fill="#ff5252"/><rect x="667" y="549" width="3" height="9" fill="#ff5252"/><rect x="672" y="549" width="3" height="10" fill="#ff5252"/><rect x="677" y="549" width="3" height="11" fill="#ff5252"/><rect x="682" y="549" width="3" height="11" fill="#ff5252"/><rect x="687" y="549" width="3" height="10" fill="#ffcdd2"/><rect x="691" y="549" width="3" height="6" fill="#ffcdd2"/><rect x="696" y="549" width="3" height="4" fill="#ffcdd2"/><rect x="701" y="549" width="3" height="3" fill="#ffcdd2"/><rect x="706" y="549" width="3" height="2" fill="#ffcdd2"/><rect x="711" y="549" width="3" height="2" fill="#ffcdd2"/><rect x="715" y="548" width="3" height="2" fill="#26a69a"/><rect x="720" y="546" width="3" height="4" fill="#26a69a"/><rect x="725" y="545" width="3" height="5" fill="#26a69a"/></g>
<polyline points="158.4,549.7 163.9,549.4 169.5,545.7 174.1,544.4 177.8,543.9 183.4,544.2 189.4,545 193.6,545.5 198.3,545.7 202.9,545.5 208.5,539 214,532.5 218,521.9 221.7,514.4 226.2,511 230,505.4 232.9,501.7 236.3,498.3 240.4,500.9 245.6,501.3 248.6,495 251.6,488.2 255.7,470.6 259.9,464.1 264.5,466.9 269.2,457.6 274.8,453 280.3,459 285,471.5 291,485 296.5,496.1 299.6,501.4 301.7,506.6 305.9,516 311.1,524.4 317.4,530.1 321.6,529.8 326.8,532.2 333.1,539.5 340.7,548.9 348.1,558.2 355.5,565.6 359.2,566.6 364.3,567.7 373.6,566.5 382.8,562.8 392.1,557.7 399.5,552.1 404.2,544.7 408.8,538.2 414.4,536.5 420,539.3 424.6,544.5 429.2,542.8 435,534.5 436.7,531.5 441.2,518.1 444.6,505.8 447.9,495.7 452.4,489 456.3,486.2 459.7,480 463.4,473.3 469,464 472.7,457.5 476.4,449.1 479.2,440.8 481,434.7 485.7,431.5 491.3,435 495.4,434.7 501,441.7 503.3,451.9 505.2,460.3 509.6,470.3 515.5,476.9 520.9,481.1 526.3,489.5 529.3,494.5 532.3,500.2 537.1,512.2 541.9,523 546,530 550.2,536.3 554.4,547.8 558.6,556.1 563.8,565.6 568,572.9 572.7,576.5 576.3,575 581.3,573.4 586.5,575.5 591.2,575 597,568.7 601.1,567.1 606.4,567.1 611.1,563.5 616.8,566.1 621,566.6 625.2,569.7 631.5,576.5 635.7,580 640.9,581.8 645.3,584.0 650,582.4 654.8,581.8 658.4,582.4 665.5,587.1 673.9,593.1 682.3,598.5 688.2,599.3 697.8,595.5 706.2,594.6 716.9,591.9 721.7,589.5 726.5,586.6" fill="none" stroke="#2c5bdc" stroke-width="1.15" stroke-linejoin="round"/>
<polyline points="198.3,545.7 202.9,545.5 207.5,544.5 213.1,542.2 218.7,537.6 224.2,531.6 227,529.3 231.4,524.1 235.9,519.2 241.2,515.1 246.4,512.1 251.6,506.9 256.1,499.4 259.8,493.5 265,488.2 266.4,486.4 273.8,477.6 279.4,472.9 284,471.7 288.7,473.2 295.5,478.4 299.6,482.3 303.8,486.7 309.1,495.1 316.4,505 323.7,511.8 332.1,520.2 340.4,528.6 349.8,539 355,544.7 364.3,553 373.6,558.2 382.8,560.5 392.1,559.4 399.5,557.2 409.8,550.7 414.4,548.4 420,546.6 429.2,545.2 435,542.8 436.7,541.6 441.2,536.6 446.8,527.1 452.4,518.1 459.1,509.1 465.9,500.2 472.6,490.1 476.7,481 480.1,473.3 485.7,464 493.1,455.6 500.5,451.4 504.2,452.4 507.2,455.5 515.5,462 525.1,469.1 529.3,474.5 533.5,479.3 540.7,490.7 549,502.6 555,513.4 562.8,529 569,540.5 574.8,548.8 581.3,555.6 586.5,560.3 591.7,562.9 601.1,564.5 611.6,565 622.1,566.1 627.3,567.6 633.6,570.3 639.8,572.9 645.3,575.2 650.3,576.5 657.2,578.2 664.3,580 673.9,583.6 683.5,588.3 691.8,591.9 701.4,593.4 709.8,594 718.1,593.1 726.5,591.3" fill="none" stroke="#ff6d00" stroke-width="1.05" stroke-linejoin="round"/>
<circle cx="183.8" cy="544.2" r="5.6" fill="rgb(9,1,1)"/>
<circle cx="183.8" cy="544.2" r="3.5" fill="none" stroke="#2150d8" stroke-width="1.45"/>
<circle cx="299.6" cy="482.3" r="5.6" fill="rgb(16,1,2)"/>
<circle cx="299.6" cy="482.3" r="3.5" fill="none" stroke="#2150d8" stroke-width="1.45"/>
<circle cx="299.6" cy="501.4" r="5.6" fill="rgb(14,1,1)"/>
<circle cx="299.6" cy="501.4" r="3.5" fill="none" stroke="#2150d8" stroke-width="1.45"/>
<circle cx="299.4" cy="569.3" r="5.6" fill="rgb(6,0,1)"/>
<circle cx="299.4" cy="569.3" r="3.5" fill="none" stroke="#2150d8" stroke-width="1.45"/>
<circle cx="414.4" cy="536.5" r="5.6" fill="rgb(10,1,1)"/>
<circle cx="414.4" cy="536.5" r="3.5" fill="none" stroke="#2150d8" stroke-width="1.45"/>
<circle cx="414.4" cy="548.4" r="5.6" fill="rgb(8,1,1)"/>
<circle cx="414.4" cy="548.4" r="3.5" fill="none" stroke="#2150d8" stroke-width="1.45"/>
<circle cx="529.3" cy="474.5" r="5.6" fill="rgb(17,1,2)"/>
<circle cx="529.3" cy="474.5" r="3.5" fill="none" stroke="#2150d8" stroke-width="1.45"/>
<circle cx="529.3" cy="494.5" r="5.6" fill="rgb(15,1,1)"/>
<circle cx="529.3" cy="494.5" r="3.5" fill="none" stroke="#2150d8" stroke-width="1.45"/>
<circle cx="529.5" cy="569.2" r="5.6" fill="rgb(6,0,1)"/>
<circle cx="529.5" cy="569.2" r="3.5" fill="none" stroke="#2150d8" stroke-width="1.45"/>
<circle cx="645.3" cy="559.3" r="5.6" fill="rgb(7,1,1)"/>
<circle cx="645.3" cy="559.3" r="3.5" fill="none" stroke="#2150d8" stroke-width="1.45"/>
<circle cx="645.3" cy="575.2" r="5.6" fill="rgb(5,0,0)"/>
<circle cx="645.3" cy="575.2" r="3.5" fill="none" stroke="#2150d8" stroke-width="1.45"/>
<circle cx="645.3" cy="585.1" r="5.6" fill="rgb(4,0,0)"/>
<circle cx="645.3" cy="585.1" r="3.5" fill="none" stroke="#2150d8" stroke-width="1.45"/>
<rect x="0" y="641" width="862" height="1" fill="#5a5a5a" shape-rendering="crispEdges"/>
<g fill="#f4b6cc" font-family="Liberation Sans, sans-serif" font-weight="bold" font-size="12.3" text-anchor="middle"><text x="82.6" y="659">2015</text><text x="197.9" y="659">2017</text><text x="255.6" y="659">2018</text><text x="313.3" y="659">2019</text><text x="486.3" y="659">2022</text><text x="543.9" y="659">2023</text><text x="601.6" y="659">2024</text><text x="659.3" y="659">2025</text><text x="774.6" y="659">2027</text><text x="832.3" y="659">2028</text></g>
<path d="M102.9,641 H197.0 V662.2 Q197.0,664.7 194.5,664.7 H105.4 Q102.9,664.7 102.9,662.2 Z" fill="#ff9800"/>
<text x="112.0" y="659.8" fill="#0c0802" stroke="#0c0802" stroke-width="0.25" font-family="Liberation Sans, sans-serif" font-size="12.6" textLength="75.45" lengthAdjust="spacingAndGlyphs">Tue 01 Mar &#39;16</text>
<path d="M346.8,641 H442.9 V662.2 Q442.9,664.7 440.4,664.7 H349.3 Q346.8,664.7 346.8,662.2 Z" fill="#ff9800"/>
<text x="354.4" y="659.8" fill="#0c0802" stroke="#0c0802" stroke-width="0.25" font-family="Liberation Sans, sans-serif" font-size="12.6" textLength="79.6" lengthAdjust="spacingAndGlyphs">Mon 01 Jun &#39;20</text>
<path d="M675,641 H768.9 V662.2 Q768.9,664.7 766.4,664.7 H677.5 Q675,664.7 675,662.2 Z" fill="#ff9800"/>
<text x="683.0" y="659.8" fill="#0c0802" stroke="#0c0802" stroke-width="0.25" font-family="Liberation Sans, sans-serif" font-size="12.6" textLength="76.55" lengthAdjust="spacingAndGlyphs">Sun 01 Feb &#39;26</text>
</svg></body></html>
